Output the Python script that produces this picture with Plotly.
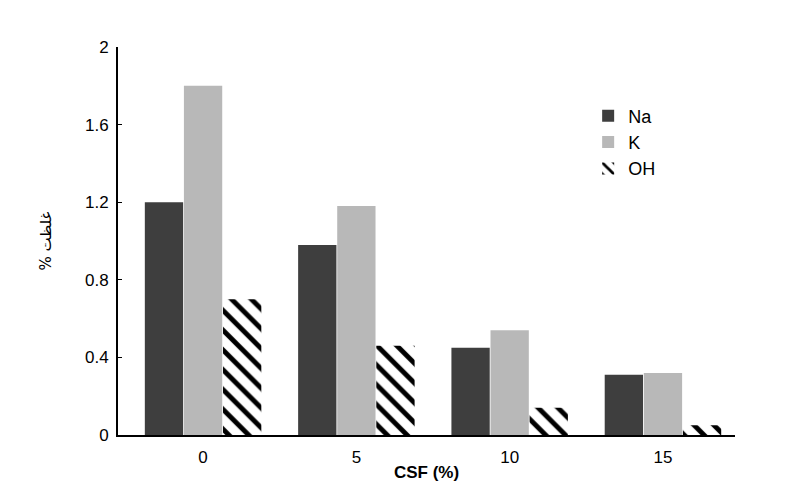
import plotly.graph_objects as go

categories = ["0", "5", "10", "15"]
na_values = [1.20, 0.98, 0.45, 0.31]
k_values = [1.80, 1.18, 0.54, 0.32]
oh_values = [0.70, 0.46, 0.14, 0.05]
y_ticks = [0, 0.4, 0.8, 1.2, 1.6, 2]
y_tick_text = ["0", "0.4", "0.8", "1.2", "1.6", "2"]

fig = go.Figure()
fig.add_trace(go.Bar(name="Na", x=categories, y=na_values,
                     marker=dict(color="#3e3e3e", line=dict(width=0))))
fig.add_trace(go.Bar(name="K", x=categories, y=k_values,
                     marker=dict(color="#b8b8b8", line=dict(width=0))))
fig.add_trace(go.Bar(name="OH", x=categories, y=oh_values,
                     marker=dict(color="white", line=dict(width=0),
                                 pattern=dict(shape="\\", fgcolor="black", bgcolor="white",
                                              fgopacity=1, size=14, solidity=0.35,
                                              fillmode="replace"))))

fig.update_layout(
    width=777, height=485,
    margin=dict(l=110, r=50, t=39, b=58),
    paper_bgcolor="white", plot_bgcolor="white",
    barmode="group", bargap=0.235, bargroupgap=0.02,
    font=dict(family="Liberation Sans, Arial, sans-serif", size=16, color="black"),
    showlegend=True,
    legend=dict(x=0.762, y=0.87, xanchor="left", yanchor="top",
                bgcolor="rgba(0,0,0,0)", font=dict(size=18), itemwidth=30,
                tracegroupgap=0),
    xaxis=dict(
        type="category", range=[-0.555, 3.47],
        showline=True, linecolor="black", linewidth=2,
        ticks="", showgrid=False, zeroline=False,
        tickfont=dict(size=17), ticklabelstandoff=6,
        title=dict(text="<b>CSF (%)</b>", font=dict(size=17), standoff=0),
    ),
    yaxis=dict(
        range=[0, 2], tickvals=y_ticks, ticktext=y_tick_text,
        showline=True, linecolor="black", linewidth=2,
        ticks="inside", ticklen=4, tickcolor="black",
        showgrid=False, zeroline=False,
        tickfont=dict(size=17), ticklabelstandoff=4,
        title=dict(text="% غلظت", font=dict(size=15, family="DejaVu Sans"), standoff=30),
    ),
)

fig.write_html("out.html")
